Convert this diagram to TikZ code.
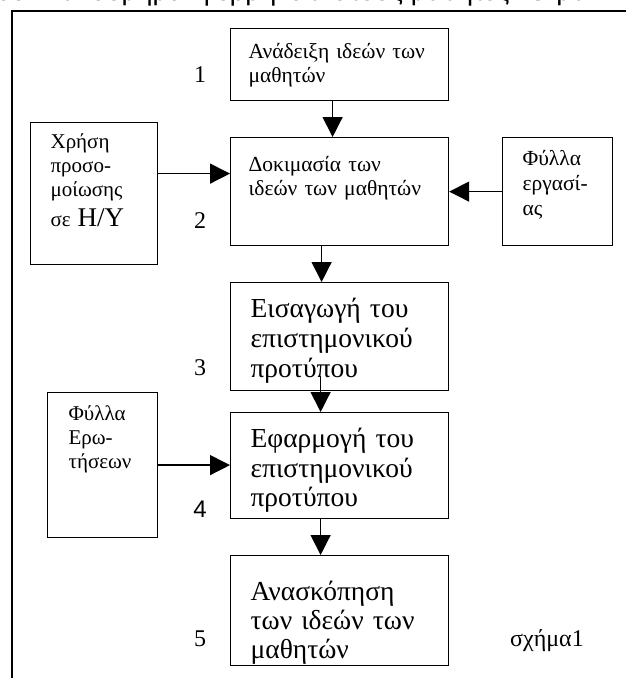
\documentclass[tikz,border=0pt]{standalone}
\usepackage{fontspec}
\setmainfont{Liberation Serif}
\newfontfamily\cutfont{Liberation Sans}
\newfontfamily\sansnum{Liberation Sans}
\usetikzlibrary{arrows.meta}

\tikzset{
	stage/.style={draw=black, line width=1.2pt, anchor=north west, inner ysep=0pt, align=left},
	num/.style={anchor=base, inner sep=0pt, font=\fontsize{24}{28}\selectfont},
	arr/.style={line width=1.4pt, -{Triangle[length=20pt,width=20pt]}}
}

\begin{document}
\begin{tikzpicture}[x=1pt,y=-1pt]
	\useasboundingbox (0,0) rectangle (626,678);
	\begin{scope}
		\clip (0,0) rectangle (626,678);
		\node[anchor=base west, inner sep=0pt, font=\cutfont\fontsize{27.5}{30}\selectfont] (head) at (-4,0.5) {ουν και δομημένη ερμηνεία στους μαθητές. Ο μα};
	\end{scope}
	\draw[line width=1.6pt] (12,678) -- (12,11) -- (626,11);

	\node[stage, inner xsep=18pt, text width=182pt, text height=30pt, text depth=42pt, font=\fontsize{21.5}{24}\selectfont] (b1) at (230,28) {Ανάδειξη ιδεών των\\μαθητών};
	\node[stage, inner xsep=18pt, text width=182pt, text height=34pt, text depth=74pt, font=\fontsize{21.5}{24}\selectfont] (b2) at (230,137) {Δοκιμασία των\\ιδεών των μαθητών};
	\node[stage, inner xsep=20pt, text width=178pt, text height=35pt, text depth=73pt, font=\fontsize{27.5}{30}\selectfont] (b3) at (230,282) {Εισαγωγή του\\επιστημονικού\\προτύπου};
	\node[stage, inner xsep=20pt, text width=178pt, text height=35pt, text depth=71pt, font=\fontsize{27.5}{29.5}\selectfont] (b4) at (230,412) {Εφαρμογή του\\επιστημονικού\\προτύπου};
	\node[stage, inner xsep=20pt, text width=178pt, text height=45pt, text depth=65pt, font=\fontsize{27.5}{29}\selectfont] (b5) at (230,555) {Ανασκόπηση\\των ιδεών των\\μαθητών};

	\node[stage, inner xsep=20pt, text width=87pt, text height=26pt, text depth=116pt, font=\fontsize{21}{24}\selectfont] (sim) at (30,122) {Χρήση\\προσο-\\μοίωσης\\[6pt]σε {\fontsize{27}{30}\selectfont Η/Υ}};
	\node[stage, inner xsep=20pt, text width=70pt, text height=28pt, text depth=80pt, font=\fontsize{21.5}{25}\selectfont] (work) at (502,137) {Φύλλα\\εργασί-\\ας};
	\node[stage, inner xsep=21pt, text width=68pt, text height=28pt, text depth=117pt, font=\fontsize{21}{24}\selectfont] (quest) at (47,392) {Φύλλα\\Ερω-\\τήσεων};

	\node[num] (n1) at (200,82) {1};
	\node[num] (n2) at (200,228) {2};
	\node[num] (n3) at (200,375) {3};
	\node[num, font=\sansnum\fontsize{24}{28}\selectfont] (n4) at (200,517) {4};
	\node[num] (n5) at (200,646) {5};
	\node[anchor=base west, inner sep=0pt, font=\fontsize{24}{28}\selectfont] (fig) at (510,646) {σχήμα1};

	\path[arr] ([xshift=-7pt]b1.south) edge ([xshift=-7pt]b2.north);
	\path[arr] ([xshift=-18pt]b2.south) edge ([xshift=-18pt]b3.north);
	\path[arr] ([xshift=-19pt,yshift=15pt]b3.south) edge ([xshift=-19pt]b4.north);
	\path[arr] ([xshift=-19pt]b4.south) edge ([xshift=-19pt]b5.north);
	\path[arr] ([yshift=20pt]sim.east) edge ([yshift=20pt]sim.east -| b2.west);
	\path[arr] (work.west) edge (work.west -| b2.east);
	\path[arr] (quest.east) edge (quest.east -| b4.west);
\end{tikzpicture}
\end{document}
